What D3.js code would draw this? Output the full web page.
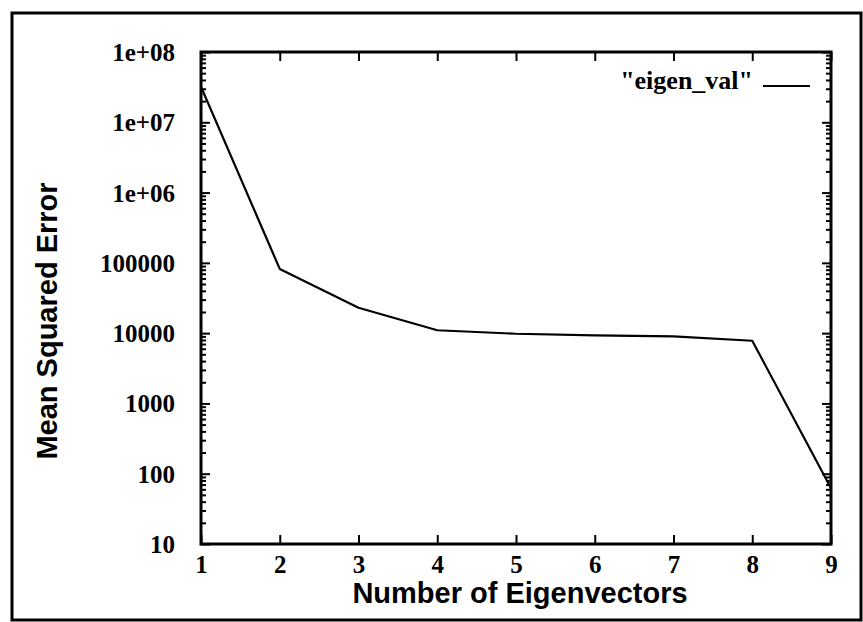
<!DOCTYPE html>
<html>
<head>
<meta charset="utf-8">
<script src="https://cdn.jsdelivr.net/npm/d3@7"></script>
<style>
  html, body { margin: 0; padding: 0; background: #fff; }
  svg { display: block; }
</style>
</head>
<body>
<svg id="chart" width="863" height="622"></svg>
<script>
// ---- data ----
const eigenCounts = [1, 2, 3, 4, 5, 6, 7, 8, 9];
const mseValues = [32000000, 82000, 23000, 11000, 9800, 9300, 9000, 7800, 62];
const xTickValues = [1, 2, 3, 4, 5, 6, 7, 8, 9];
const yTickValues = [10, 100, 1000, 10000, 100000, 1e6, 1e7, 1e8];
const yTickLabels = ["10", "100", "1000", "10000", "100000", "1e+06", "1e+07", "1e+08"];
const seriesName = "\"eigen_val\"";
const xTitle = "Number of Eigenvectors";
const yTitle = "Mean Squared Error";

const svg = d3.select("#chart");
const W = 863, H = 622;
const m = { left: 201, top: 52, right: 831, bottom: 544 };

svg.append("rect").attr("x", 0).attr("y", 0).attr("width", W).attr("height", H).attr("fill", "#fff");

// outer frame
svg.append("rect")
  .attr("x", 12).attr("y", 13).attr("width", 849).attr("height", 607)
  .attr("fill", "none").attr("stroke", "#000").attr("stroke-width", 3);

const x = d3.scaleLinear().domain([1, 9]).range([m.left, m.right]);
const y = d3.scaleLog().domain([10, 1e8]).range([m.bottom, m.top]);

const serif = "'Liberation Serif', 'Times New Roman', serif";
const sans = "'Liberation Sans', Arial, Helvetica, sans-serif";

// minor log ticks
const minor = [];
for (let e = 1; e < 8; e++) for (let k = 2; k <= 9; k++) minor.push(k * Math.pow(10, e));

function styleAxis(g) {
  g.select(".domain").remove();
  g.selectAll(".tick line").attr("stroke", "#000").attr("stroke-width", 2);
}

// left axis major
const yAxisL = d3.axisLeft(y).tickValues(yTickValues)
  .tickFormat((d, i) => yTickLabels[i]).tickSizeInner(-9).tickSizeOuter(0).tickPadding(26);
const gL = svg.append("g").attr("transform", `translate(${m.left},0)`).call(yAxisL);
styleAxis(gL);
gL.selectAll("text").attr("font-family", serif).attr("font-weight", "bold")
  .attr("font-size", 25).attr("fill", "#000").attr("dy", "0.34em");

// left minor
const gLm = svg.append("g").attr("transform", `translate(${m.left},0)`)
  .call(d3.axisLeft(y).tickValues(minor).tickFormat("").tickSizeInner(-5).tickSizeOuter(0));
styleAxis(gLm);

// right axis
const gR = svg.append("g").attr("transform", `translate(${m.right},0)`)
  .call(d3.axisRight(y).tickValues(yTickValues).tickFormat("").tickSizeInner(-9).tickSizeOuter(0));
styleAxis(gR);
const gRm = svg.append("g").attr("transform", `translate(${m.right},0)`)
  .call(d3.axisRight(y).tickValues(minor).tickFormat("").tickSizeInner(-5).tickSizeOuter(0));
styleAxis(gRm);

// bottom axis
const xAxisB = d3.axisBottom(x).tickValues(xTickValues).tickFormat(d3.format("d"))
  .tickSizeInner(-9).tickSizeOuter(0).tickPadding(21);
const gB = svg.append("g").attr("transform", `translate(0,${m.bottom})`).call(xAxisB);
styleAxis(gB);
gB.selectAll("text").attr("font-family", serif).attr("font-weight", "bold")
  .attr("font-size", 25).attr("fill", "#000").attr("dy", "0.3em");

// top axis
const gT = svg.append("g").attr("transform", `translate(0,${m.top})`)
  .call(d3.axisTop(x).tickValues(xTickValues).tickFormat("").tickSizeInner(-9).tickSizeOuter(0));
styleAxis(gT);

// plot frame
svg.append("rect")
  .attr("x", m.left).attr("y", m.top)
  .attr("width", m.right - m.left).attr("height", m.bottom - m.top)
  .attr("fill", "none").attr("stroke", "#000").attr("stroke-width", 3);

// data line
const line = d3.line().x((d, i) => x(eigenCounts[i])).y(d => y(d));
svg.append("path").datum(mseValues)
  .attr("d", line).attr("fill", "none").attr("stroke", "#000")
  .attr("stroke-width", 2.2).attr("stroke-linejoin", "round");

// legend
svg.append("text").attr("x", 753).attr("y", 89).attr("text-anchor", "end")
  .attr("font-family", serif).attr("font-weight", "bold").attr("font-size", 26)
  .attr("fill", "#000").text(seriesName);
svg.append("line").attr("x1", 763).attr("x2", 810).attr("y1", 86).attr("y2", 86)
  .attr("stroke", "#000").attr("stroke-width", 2.2);

// axis titles
svg.append("text").attr("x", 520).attr("y", 603)
  .attr("text-anchor", "middle").attr("font-family", sans).attr("font-weight", "bold")
  .attr("font-size", 29).attr("fill", "#000").text(xTitle);

svg.append("text").attr("transform", `translate(57,321) rotate(-90)`)
  .attr("text-anchor", "middle").attr("font-family", sans).attr("font-weight", "bold")
  .attr("font-size", 29).attr("fill", "#000").text(yTitle);
</script>
</body>
</html>
